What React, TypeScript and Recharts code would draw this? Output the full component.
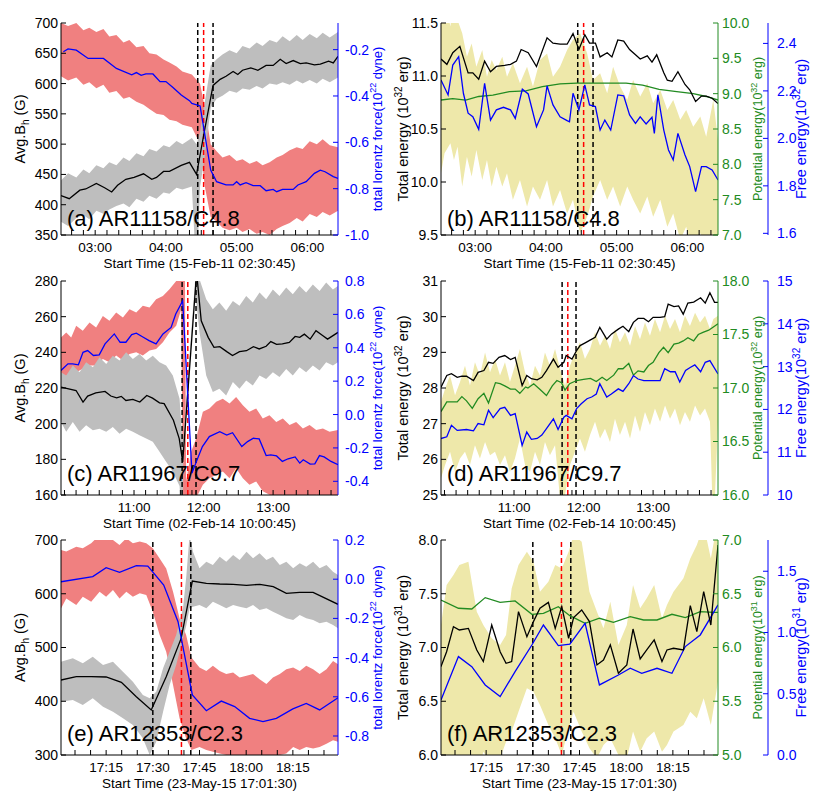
import React from 'react';
import { ComposedChart, Line, Area, XAxis, YAxis, ReferenceLine } from 'recharts';

const FONT = '"Liberation Sans", Arial, Helvetica, sans-serif';
const BLUE = '#0000ff';
const GREEN = '#228b22';
const RED_FILL = '#f08080';
const GRAY_FILL = '#bebebe';
const KHAKI_FILL = '#eee8aa';

// times are minutes of the day

// time axis ticks (all tick marks, and the ones that carry a label)
const X_TICKS_A = [160, 170, 180, 190, 200, 210, 220, 230, 240, 250, 260, 270, 280, 290, 300, 310, 320, 330, 340, 350, 360, 370, 380];
const X_LABELS_A = [180, 240, 300, 360];
const X_TICKS_C = [600, 610, 620, 630, 640, 650, 660, 670, 680, 690, 700, 710, 720, 730, 740, 750, 760, 770, 780, 790, 800, 810, 820, 830];
const X_LABELS_C = [660, 720, 780];
const X_TICKS_E = [1025, 1030, 1035, 1040, 1045, 1050, 1055, 1060, 1065, 1070, 1075, 1080, 1085, 1090, 1095, 1100, 1105];
const X_LABELS_E = [1035, 1050, 1065, 1080, 1095];

// ---- (a) AR11158/C4.8 : Avg.Bh and total Lorentz force ----
const A_BH_T = [151, 158, 167, 172, 181, 188, 194, 199, 206, 213, 221, 228, 232, 238, 243, 253, 260, 266, 273, 280, 286, 291, 297, 301, 305, 312, 318, 325, 331, 337, 342, 348, 354, 359, 366, 371, 378, 382, 386];
const A_BH_V = [415, 410, 424, 426, 435, 428, 421, 432, 442, 445, 451, 442, 445, 455, 455, 465, 470, 450, 525, 597, 607, 612, 620, 615, 622, 626, 622, 630, 630, 640, 633, 638, 633, 634, 631, 632, 637, 634, 645];
const A_LF_T = [153, 157, 164, 174, 187, 198, 211, 215, 219, 223, 229, 235, 240, 246, 253, 260, 262, 269, 278, 283, 291, 297, 300, 303, 308, 314, 320, 325, 331, 334, 339, 348, 352, 359, 366, 371, 375, 382, 386];
const A_LF_V = [-0.209, -0.197, -0.202, -0.238, -0.238, -0.281, -0.309, -0.299, -0.311, -0.305, -0.305, -0.338, -0.338, -0.363, -0.396, -0.42, -0.432, -0.443, -0.72, -0.77, -0.784, -0.784, -0.77, -0.784, -0.774, -0.787, -0.787, -0.809, -0.803, -0.813, -0.803, -0.803, -0.784, -0.77, -0.734, -0.72, -0.727, -0.748, -0.756];
const A_RED_T = [151, 157, 164, 170, 175, 181, 187, 192, 198, 204, 209, 215, 221, 226, 232, 238, 243, 249, 254, 262, 269, 273, 278, 283, 288, 294, 300, 305, 311, 317, 322, 328, 334, 339, 345, 351, 356, 362, 368, 373, 379, 386];
const A_RED_HI = [-0.085, -0.098, -0.085, -0.116, -0.106, -0.124, -0.111, -0.143, -0.137, -0.169, -0.158, -0.19, -0.184, -0.216, -0.221, -0.242, -0.255, -0.273, -0.294, -0.307, -0.347, -0.451, -0.608, -0.639, -0.665, -0.655, -0.681, -0.673, -0.692, -0.681, -0.699, -0.686, -0.665, -0.655, -0.634, -0.621, -0.629, -0.595, -0.608, -0.587, -0.613, -0.621];
const A_RED_LO = [-0.315, -0.333, -0.32, -0.352, -0.341, -0.367, -0.352, -0.386, -0.378, -0.412, -0.404, -0.425, -0.438, -0.456, -0.477, -0.482, -0.503, -0.509, -0.524, -0.535, -0.608, -0.791, -0.922, -0.942, -0.969, -0.979, -0.969, -0.987, -0.974, -0.995, -0.987, -1.0, -0.974, -0.961, -0.948, -0.927, -0.942, -0.909, -0.922, -0.901, -0.916, -0.895];
const A_GRAY_T = [151, 157, 164, 170, 175, 181, 187, 192, 198, 204, 209, 215, 221, 226, 232, 238, 243, 249, 254, 262, 266, 269, 273, 278, 283, 288, 294, 300, 305, 311, 317, 322, 328, 334, 339, 345, 351, 356, 362, 368, 373, 379, 386];
const A_GRAY_HI = [440, 452, 445, 458, 452, 465, 460, 470, 465, 478, 472, 485, 480, 492, 488, 498, 495, 505, 500, 510, 500, 520, 570, 630, 640, 648, 655, 650, 662, 658, 668, 662, 672, 668, 678, 670, 680, 672, 682, 675, 684, 676, 685];
const A_GRAY_LO = [372, 365, 378, 383, 376, 390, 385, 392, 398, 402, 396, 410, 405, 415, 410, 420, 418, 428, 425, 430, 280, 430, 480, 560, 575, 580, 588, 585, 592, 590, 596, 592, 600, 598, 602, 598, 605, 600, 606, 600, 608, 602, 610];

// ---- (b) AR11158/C4.8 : energies ----
const B_TE_T = [151, 156, 161, 167, 174, 178, 183, 188, 193, 198, 205, 210, 215, 219, 225, 232, 241, 246, 252, 258, 263, 268, 273, 277, 282, 286, 292, 296, 301, 306, 311, 316, 320, 326, 330, 334, 340, 343, 347, 352, 358, 362, 367, 372, 376, 381, 386];
const B_TE_V = [11.16, 11.11, 11.22, 11.28, 11.03, 11.03, 10.97, 11.14, 11.04, 11.09, 11.1, 11.11, 11.14, 11.25, 11.22, 11.09, 11.36, 11.31, 11.3, 11.3, 11.4, 11.25, 11.39, 11.31, 11.31, 11.18, 11.22, 11.18, 11.34, 11.33, 11.25, 11.2, 11.16, 11.19, 11.13, 11.2, 11.03, 10.96, 10.95, 11.04, 10.92, 10.87, 10.76, 10.81, 10.81, 10.79, 10.74];
const B_PE_T = [151, 161, 172, 183, 195, 209, 223, 237, 252, 266, 280, 294, 308, 322, 336, 351, 365, 376, 386];
const B_PE_V = [8.91, 8.93, 8.91, 8.96, 8.98, 9.03, 9.04, 9.1, 9.14, 9.15, 9.15, 9.15, 9.15, 9.12, 9.06, 9.03, 9.0, 8.96, 8.91];
const B_FE_T = [151, 157, 161, 166, 170, 174, 178, 183, 188, 193, 198, 204, 210, 214, 220, 225, 232, 238, 241, 246, 252, 258, 260, 263, 268, 273, 277, 282, 286, 290, 295, 301, 306, 311, 316, 320, 325, 330, 332, 335, 340, 344, 348, 352, 358, 362, 367, 372, 376, 381, 386];
const B_FE_V = [2.246, 2.183, 2.309, 2.344, 2.19, 2.106, 2.091, 2.038, 2.232, 2.077, 2.12, 2.131, 2.12, 2.084, 2.207, 2.187, 2.049, 2.12, 2.221, 2.141, 2.091, 2.075, 2.07, 2.19, 2.12, 2.225, 2.141, 2.134, 2.035, 2.077, 2.035, 2.183, 2.179, 2.099, 2.063, 2.091, 2.061, 2.089, 2.021, 2.183, 2.035, 1.951, 1.909, 2.021, 1.93, 1.881, 1.776, 1.881, 1.881, 1.867, 1.825];
const B_ERR_T = [151, 154, 159, 162, 165, 169, 173, 177, 181, 186, 190, 194, 198, 203, 207, 212, 218, 224, 229, 235, 241, 246, 252, 258, 263, 269, 275, 280, 286, 292, 297, 303, 309, 314, 320, 326, 331, 337, 343, 348, 354, 359, 365, 371, 376, 382, 386];
const B_ERR_HI = [2.541, 2.583, 2.471, 2.611, 2.499, 2.443, 2.344, 2.4, 2.302, 2.372, 2.26, 2.33, 2.288, 2.344, 2.26, 2.316, 2.232, 2.302, 2.218, 2.33, 2.358, 2.26, 2.302, 2.372, 2.415, 2.443, 2.358, 2.246, 2.274, 2.19, 2.302, 2.218, 2.162, 2.246, 2.176, 2.232, 2.148, 2.204, 2.12, 2.162, 2.078, 2.12, 2.049, 2.092, 2.007, 2.162, 1.993];
const B_ERR_LO = [1.853, 1.937, 1.979, 1.909, 1.965, 1.797, 1.923, 1.839, 1.951, 1.825, 1.909, 1.797, 1.881, 1.797, 1.853, 1.741, 1.825, 1.713, 1.797, 1.741, 1.825, 1.713, 1.783, 1.684, 1.741, 1.6, 1.67, 1.755, 1.825, 1.741, 1.797, 1.713, 1.797, 1.741, 1.684, 1.755, 1.67, 1.741, 1.628, 1.684, 1.572, 1.628, 1.516, 1.6, 1.544, 1.6, 1.516];

// ---- (c) AR11967/C9.7 : Avg.Bh and total Lorentz force ----
const C_BH_T = [597, 610, 616, 620, 627, 635, 640, 645, 649, 653, 659, 665, 671, 676, 682, 686, 694, 699, 702, 714, 718, 724, 729, 734, 740, 745, 751, 757, 763, 768, 774, 778, 783, 788, 794, 799, 803, 807, 812, 817, 823, 827, 836];
const C_BH_V = [220.5, 218.6, 212.1, 215.5, 217.3, 218.1, 215.5, 214.5, 215.3, 213.0, 213.6, 212.1, 215.8, 214.3, 211.7, 211.2, 201.9, 191.6, 178.6, 284.6, 257.7, 248.4, 242.8, 243.2, 240.4, 238.2, 240.4, 240.9, 243.2, 241.9, 243.4, 246.0, 244.5, 244.7, 245.6, 248.9, 248.4, 250.2, 247.4, 252.1, 249.3, 247.4, 251.2];
const C_LF_T = [597, 603, 607, 612, 616, 620, 625, 630, 635, 643, 648, 653, 658, 662, 668, 673, 679, 685, 692, 696, 702, 710, 715, 719, 725, 734, 740, 745, 753, 758, 763, 768, 774, 778, 783, 788, 793, 799, 803, 806, 812, 816, 820, 824, 830, 836];
const C_LF_V = [0.264, 0.304, 0.304, 0.298, 0.373, 0.383, 0.354, 0.358, 0.423, 0.483, 0.433, 0.433, 0.479, 0.487, 0.463, 0.443, 0.423, 0.483, 0.522, 0.602, 0.681, -0.351, -0.261, -0.192, -0.132, -0.103, -0.123, -0.109, -0.192, -0.162, -0.142, -0.146, -0.246, -0.242, -0.248, -0.281, -0.265, -0.254, -0.291, -0.271, -0.297, -0.295, -0.246, -0.254, -0.281, -0.301];
const C_RED_T = [597, 601.5, 605.8, 610.1, 615.8, 621.6, 627.3, 633.1, 638.8, 644.6, 650.4, 656.1, 661.9, 667.6, 673.4, 679.1, 684.9, 690.6, 696.4, 700.7, 702.3, 703.8, 705, 709.3, 713.6, 719.4, 725.1, 730.9, 736.6, 742.4, 748.1, 753.9, 759.6, 765.4, 771.1, 776.9, 782.7, 788.4, 794.2, 799.9, 805.7, 811.5, 817.2, 823, 828.7, 835.9];
const C_RED_HI = [0.462, 0.492, 0.462, 0.532, 0.502, 0.552, 0.522, 0.591, 0.562, 0.611, 0.581, 0.631, 0.611, 0.651, 0.641, 0.691, 0.71, 0.75, 0.8, 0.889, 0.95, 0.95, -0.4, -0.222, -0.143, 0.016, 0.036, 0.076, 0.095, 0.066, 0.105, 0.056, 0.016, 0.036, -0.024, -0.004, -0.044, -0.024, -0.063, -0.044, -0.083, -0.063, -0.093, -0.083, -0.103, -0.093];
const C_RED_LO = [0.195, 0.234, 0.205, 0.254, 0.274, 0.294, 0.294, 0.333, 0.314, 0.353, 0.324, 0.363, 0.373, 0.353, 0.383, 0.393, 0.433, 0.492, 0.532, 0.631, -0.55, -0.55, -0.55, -0.54, -0.5, -0.42, -0.381, -0.361, -0.341, -0.381, -0.321, -0.381, -0.42, -0.401, -0.46, -0.48, -0.5, -0.48, -0.52, -0.5, -0.5, -0.52, -0.48, -0.5, -0.51, -0.5];
const C_GRAY_T = [597, 601.5, 607.2, 613, 618.7, 624.5, 630.2, 636, 641.7, 647.5, 653.2, 659, 664.7, 670.5, 676.2, 682, 687.7, 693.5, 699.3, 700.8, 701.8, 702.6, 713, 713.8, 716.5, 722.3, 728, 733.7, 739.5, 745.3, 751, 756.8, 762.5, 768.3, 774, 779.8, 785.5, 791.3, 797, 802.8, 808.5, 814.3, 820.1, 825.8, 831.6, 835.9];
const C_GRAY_HI = [228.9, 227.0, 232.6, 228.9, 234.4, 231.6, 237.2, 233.5, 238.1, 235.4, 240.0, 236.3, 239.1, 235.4, 238.1, 234.4, 232.6, 227.0, 214, 200, 190, 192, 283, 300, 281.0, 269.8, 264.2, 267.9, 263.3, 268.8, 266.1, 271.6, 267.9, 273.5, 269.8, 275.3, 271.6, 276.3, 272.6, 277.2, 273.5, 278.1, 274.4, 279.1, 275.3, 277.2];
const C_GRAY_LO = [201.0, 195.4, 201.0, 195.4, 199.1, 196.3, 197.2, 195.4, 198.2, 194.4, 197.2, 195.4, 193.5, 191.7, 189.8, 184.2, 178.6, 173.1, 165, 150, 130, 184, 277, 268, 251.2, 227.0, 217.7, 219.6, 215.8, 223.3, 219.6, 224.2, 221.4, 227.0, 225.1, 228.9, 226.1, 230.7, 227.0, 231.6, 228.9, 232.6, 229.8, 234.4, 232.6, 234.4];

// ---- (d) AR11967/C9.7 : energies ----
const D_TE_T = [597, 602, 606, 611, 615, 619, 625, 629, 634, 638, 642, 647, 652, 657, 661, 667, 671, 675, 680, 684, 688, 694, 698, 703, 705, 710, 714, 717, 721, 726, 730, 734, 740, 744, 750, 754, 759, 763, 767, 772, 776, 780, 786, 790, 793, 798, 802, 806, 810, 815, 821, 825, 829, 833, 836];
const D_TE_V = [28.02, 28.35, 28.4, 28.3, 28.33, 28.33, 28.21, 28.44, 28.49, 28.72, 28.69, 28.86, 28.91, 28.8, 28.86, 28.07, 28.35, 28.26, 28.23, 28.3, 28.49, 28.81, 28.58, 28.72, 28.91, 28.81, 29.05, 29.19, 29.26, 29.35, 29.42, 29.7, 29.37, 29.51, 29.65, 29.73, 29.58, 29.84, 29.95, 29.95, 29.86, 29.98, 29.98, 30.0, 30.35, 30.28, 30.3, 30.07, 30.38, 30.41, 30.53, 30.38, 30.67, 30.4, 30.4];
const D_PE_T = [597, 602, 606, 611, 615, 619, 624, 629, 634, 638, 644, 648, 652, 657, 661, 665, 670, 672, 677, 682, 688, 693, 697, 701, 704, 708, 714, 720, 726, 731, 736, 740, 746, 750, 754, 759, 763, 767, 772, 776, 780, 785, 789, 793, 798, 802, 806, 810, 815, 819, 823, 828, 832, 836];
const D_PE_V = [16.78, 16.87, 16.87, 16.87, 16.92, 16.88, 16.81, 16.9, 16.95, 16.86, 17.05, 17.04, 17.02, 16.99, 16.99, 16.95, 17.01, 17.0, 17.04, 16.99, 16.93, 17.02, 17.07, 17.05, 16.98, 17.04, 17.07, 17.08, 17.09, 17.06, 17.1, 17.07, 17.12, 17.18, 17.18, 17.23, 17.12, 17.16, 17.15, 17.21, 17.24, 17.33, 17.38, 17.33, 17.41, 17.42, 17.44, 17.47, 17.44, 17.5, 17.52, 17.54, 17.57, 17.6];
const D_FE_T = [597, 602, 606, 611, 619, 625, 629, 634, 638, 642, 648, 652, 657, 661, 667, 671, 675, 680, 684, 688, 694, 698, 703, 705, 710, 714, 718, 723, 727, 731, 734, 740, 744, 750, 754, 759, 763, 767, 772, 776, 780, 786, 790, 795, 799, 803, 808, 812, 816, 821, 825, 829, 836];
const D_FE_V = [11.32, 11.36, 11.63, 11.51, 11.53, 11.5, 11.67, 11.64, 11.98, 11.81, 12.02, 12.05, 11.86, 11.9, 11.16, 11.47, 11.3, 11.32, 11.4, 11.55, 11.78, 11.53, 11.82, 11.86, 11.78, 12.02, 12.13, 12.25, 12.29, 12.36, 12.6, 12.29, 12.36, 12.48, 12.42, 12.6, 12.79, 12.71, 12.67, 12.67, 12.67, 12.67, 12.95, 12.88, 12.88, 12.64, 12.91, 12.98, 13.04, 12.88, 13.1, 13.14, 12.83];
const D_ERR_T = [597, 600.5, 604.8, 609.1, 613.4, 617.7, 622, 626.3, 630.6, 635, 639.3, 643.6, 647.9, 652.2, 656.5, 660.8, 665.1, 669.5, 673.8, 678.1, 682.4, 686.7, 691, 695.4, 699.7, 704, 708.3, 712.6, 716.9, 721.2, 725.6, 729.9, 734.2, 738.5, 742.8, 747.1, 751.4, 755.8, 760.1, 764.4, 768.7, 773, 777.3, 781.6, 786, 790.3, 794.6, 798.9, 803.2, 807.5, 811.8, 816.2, 820.5, 824.8, 829.1, 832, 836];
const D_ERR_HI = [12.17, 12.48, 12.79, 12.33, 12.64, 13.02, 12.56, 13.1, 12.79, 13.33, 12.87, 13.18, 12.79, 13.1, 12.64, 13.02, 13.41, 12.87, 12.56, 13.02, 12.79, 13.33, 13.02, 13.41, 12.95, 12.56, 13.02, 13.33, 13.57, 13.18, 13.41, 13.8, 13.49, 13.72, 13.41, 13.88, 13.57, 13.8, 13.49, 13.95, 13.64, 14.03, 13.72, 14.11, 13.8, 14.19, 13.88, 14.11, 13.8, 14.19, 13.95, 14.26, 14.03, 14.19, 13.88, 14.11, 14.19];
const D_ERR_LO = [10.39, 10.7, 11.01, 10.54, 10.85, 11.01, 10.7, 11.16, 10.85, 11.24, 10.93, 11.01, 10.7, 10.93, 10.54, 10.85, 11.32, 10.7, 10.54, 11.01, 10.7, 11.24, 10.93, 11.16, 9.92, 10.0, 10.7, 11.01, 11.32, 11.01, 11.4, 11.71, 11.32, 11.55, 11.24, 11.78, 11.4, 11.71, 11.32, 11.86, 11.47, 11.94, 11.63, 12.02, 11.71, 12.09, 11.78, 12.02, 11.63, 11.94, 11.71, 12.09, 11.86, 12.02, 11.71, 9.07, 11.71];

// ---- (e) AR12353/C2.3 : Avg.Bh and total Lorentz force ----
const E_BH_T = [1020.5, 1025.4, 1030.2, 1035, 1039.9, 1044.7, 1049.5, 1054.3, 1059.1, 1062.7, 1067.2, 1071.5, 1075.8, 1080.1, 1084.4, 1088.7, 1092.9, 1097.2, 1101.5, 1109.5];
const E_BH_V = [439.5, 445.7, 445.7, 445.1, 435.2, 408.5, 383.7, 445.7, 517, 623.7, 619.4, 618.1, 617.5, 615.7, 617.5, 613.2, 600.8, 602.6, 602.6, 580.3];
const E_LF_T = [1020.5, 1030.7, 1035, 1039.3, 1044.7, 1048.4, 1053.5, 1058.1, 1062.7, 1067.2, 1072, 1076.3, 1081.1, 1085.4, 1089.7, 1095, 1099.3, 1103.6, 1109.5];
const E_LF_V = [-0.013, 0.013, 0.059, 0.035, 0.069, 0.067, -0.03, -0.217, -0.59, -0.671, -0.622, -0.65, -0.71, -0.727, -0.71, -0.662, -0.634, -0.667, -0.605];
const E_RED_T = [1020.5, 1022.2, 1025.4, 1027.5, 1030.2, 1032.9, 1035, 1037.2, 1039.3, 1041.5, 1043.6, 1045.8, 1047.9, 1050, 1052.2, 1054.3, 1056.5, 1058.6, 1060.7, 1062.4, 1065, 1067.2, 1069.3, 1071.5, 1073.6, 1075.8, 1077.9, 1080.1, 1082.2, 1084.3, 1086.5, 1088.6, 1090.8, 1092.9, 1095.1, 1097.2, 1099.3, 1101.5, 1103.6, 1105.8, 1107.9, 1109.5];
const E_RED_HI = [0.149, 0.141, 0.166, 0.158, 0.183, 0.226, 0.209, 0.2, 0.175, 0.209, 0.183, 0.192, 0.183, 0.158, 0.106, 0.055, -0.064, -0.2, -0.285, -0.4, -0.451, -0.468, -0.442, -0.468, -0.484, -0.476, -0.501, -0.493, -0.484, -0.51, -0.535, -0.501, -0.484, -0.459, -0.451, -0.468, -0.442, -0.459, -0.484, -0.459, -0.417, -0.434];
const E_RED_LO = [-0.149, -0.098, -0.132, -0.089, -0.115, -0.064, -0.089, -0.055, -0.098, -0.064, -0.089, -0.072, -0.081, -0.166, -0.285, -0.37, -0.54, -0.71, -0.812, -0.872, -0.856, -0.872, -0.88, -0.889, -0.897, -0.906, -0.897, -0.914, -0.923, -0.914, -0.923, -0.906, -0.897, -0.889, -0.856, -0.872, -0.856, -0.864, -0.856, -0.839, -0.822, -0.83];
const E_GRAY_T = [1020.5, 1024.3, 1027.5, 1030.7, 1034, 1037.2, 1040.4, 1043.6, 1046.8, 1049, 1051.1, 1053.3, 1055.4, 1057.5, 1059.7, 1060.8, 1061.8, 1062.9, 1065, 1067.2, 1069.3, 1071.5, 1073.6, 1075.8, 1077.9, 1080.1, 1082.2, 1084.3, 1086.5, 1088.6, 1090.8, 1092.9, 1095.1, 1097.2, 1099.3, 1101.5, 1103.6, 1105.8, 1107.9, 1109.5];
const E_GRAY_HI = [473.6, 479.8, 470.5, 482.9, 467.4, 473.6, 455.0, 436.4, 411.6, 405.4, 417.8, 461.2, 492.2, 523.2, 572.9, 634.9, 709.3, 678.3, 647.3, 659.7, 653.5, 669.0, 659.7, 672.1, 662.8, 678.3, 665.9, 675.2, 662.8, 669.0, 653.5, 659.7, 647.3, 656.6, 650.4, 659.7, 647.3, 653.5, 641.1, 634.9];
const E_GRAY_LO = [399.2, 402.3, 393.0, 405.4, 389.9, 380.6, 368.2, 355.8, 331.0, 300.0, 324.8, 380.6, 430.2, 467.4, 517.0, 541.8, 572.9, 576.0, 579.1, 572.9, 585.3, 579.1, 572.9, 579.1, 576.0, 572.9, 579.1, 569.8, 572.9, 566.6, 560.4, 554.2, 551.1, 560.4, 554.2, 551.1, 544.9, 548.0, 541.8, 535.6];

// ---- (f) AR12353/C2.3 : energies ----
const F_TE_T = [1020.5, 1022.3, 1024.5, 1026.4, 1029.3, 1032, 1034.1, 1036.8, 1039.5, 1041.4, 1043.2, 1045.4, 1048.1, 1050.2, 1052.3, 1055, 1057.2, 1059.3, 1061.5, 1063.1, 1065.7, 1068.2, 1070.6, 1072.7, 1074.9, 1077.5, 1080.2, 1082.2, 1084.5, 1086.6, 1089, 1091.5, 1093.1, 1095.2, 1098.4, 1100.6, 1102.7, 1104.9, 1107.2, 1109.5];
const F_TE_V = [6.822, 6.961, 7.194, 7.163, 7.178, 6.977, 6.869, 7.209, 6.961, 6.853, 6.869, 7.334, 7.101, 7.241, 7.365, 7.42, 7.178, 7.38, 7.086, 7.278, 7.349, 7.241, 6.838, 6.884, 7.024, 6.76, 6.838, 7.172, 6.893, 6.977, 7.07, 6.869, 6.977, 6.993, 6.977, 7.389, 7.148, 7.52, 7.209, 7.954];
const F_PE_T = [1020.5, 1026.1, 1030.4, 1034.7, 1039.5, 1044.3, 1049.7, 1053.4, 1058.2, 1061.9, 1066.8, 1071.4, 1075.9, 1081.3, 1085.6, 1089.9, 1094.7, 1099, 1103.8, 1108.1, 1109.5];
const F_PE_V = [6.442, 6.365, 6.358, 6.464, 6.42, 6.433, 6.309, 6.318, 6.38, 6.296, 6.225, 6.272, 6.234, 6.287, 6.256, 6.256, 6.309, 6.278, 6.334, 6.327, 6.327];
const F_FE_T = [1020.5, 1026.1, 1030.4, 1034.7, 1039.5, 1044.3, 1049.7, 1053.4, 1058.2, 1061.9, 1066.8, 1071.4, 1077.5, 1081.3, 1085, 1089.9, 1094.7, 1099, 1103.8, 1109.5];
const F_FE_V = [0.449, 0.803, 0.721, 0.572, 0.477, 0.681, 0.898, 1.061, 0.893, 0.904, 1.075, 0.572, 0.653, 0.708, 0.667, 0.708, 0.667, 0.885, 0.98, 1.225];
const F_ERR_T = [1020.5, 1022.3, 1024.5, 1026.4, 1029.3, 1032, 1034.1, 1036.8, 1039.5, 1041.4, 1043.2, 1045.4, 1048.1, 1050.2, 1052.3, 1055, 1057.2, 1059.3, 1061.5, 1063.1, 1065.7, 1068.2, 1070.6, 1072.7, 1074.9, 1077.5, 1080.2, 1082.2, 1084.5, 1086.6, 1089, 1091.5, 1093.1, 1095.2, 1098.4, 1100.6, 1102.7, 1104.9, 1107.2, 1109.5];
const F_ERR_HI = [1.061, 1.387, 1.469, 1.551, 1.578, 1.17, 1.061, 0.952, 0.898, 0.979, 1.36, 1.551, 1.659, 1.578, 1.333, 1.415, 1.551, 1.523, 1.659, 1.795, 1.741, 1.333, 1.17, 1.034, 1.251, 0.898, 1.061, 1.387, 1.197, 1.279, 1.387, 1.115, 1.224, 1.333, 1.442, 1.605, 1.714, 1.877, 1.605, 1.931];
const F_ERR_LO = [-0.299, -0.081, -0.19, -0.027, 0.0, -0.19, 0.027, -0.081, -0.027, 0.109, 0.191, 0.354, 0.544, 0.517, 0.408, 0.245, 0.136, 0.0, 0.218, 0.354, 0.191, 0.055, -0.027, 0.082, 0.136, 0.0, -0.027, 0.191, 0.027, 0.136, 0.191, 0.027, 0.082, 0.191, 0.245, 0.354, 0.299, 0.463, 0.245, 0.599];

// flare markers (black = start/end, red = peak)
const FLARE_A = { edges: [267, 280], peak: 272 };
const FLARE_C = { edges: [701.5, 713.5], peak: 706.4 };
const FLARE_E = { edges: [1050, 1062.2], peak: 1059.2 };

type Part = [string, ('sup' | 'sub')?];
const T_BH: Part[] = [['Avg.B'], ['h', 'sub'], [' (G)']];
const T_LF: Part[] = [['total lorentz force(10'], ['22', 'sup'], [' dyne)']];
const energyTitle = (name: string, exp: string): Part[] => [[name + '(10'], [exp, 'sup'], [' erg)']];

const pts = (t: number[], v: number[]) => t.map((x, i) => ({ t: x, v: v[i] }));
const rng = (t: number[], lo: number[], hi: number[]) => t.map((x, i) => ({ t: x, r: [lo[i], hi[i]] }));

const hhmm = (m: number) => {
  const h = Math.floor(m / 60);
  const mm = Math.round(m - h * 60);
  return `${String(h).padStart(2, '0')}:${String(mm).padStart(2, '0')}`;
};

function Title({ x, y, parts, color, size, vertical }: { x: number; y: number; parts: Part[]; color: string; size: number; vertical: boolean }) {
  let level = 0;
  const spans = parts.map(([s, mode], i) => {
    const target = mode === 'sup' ? -0.45 * size : mode === 'sub' ? 0.28 * size : 0;
    const dy = target - level;
    level = target;
    return (
      <tspan key={i} dy={dy} fontSize={mode ? Math.round(size * 0.7) : size}>
        {s}
      </tspan>
    );
  });
  const tr = vertical ? `translate(${x + size * 0.35},${y}) rotate(-90)` : `translate(${x},${y})`;
  return (
    <text transform={tr} textAnchor="middle" fill={color} fontFamily={FONT} fontSize={size}>
      {spans}
    </text>
  );
}

interface AxisDef {
  id: string;
  domain: [number, number];
  ticks: number[];
  digits: number;
  color: string;
  width: number;
  margin: number;
  title: Part[];
  titleX: number;
  titleSize: number;
}

interface PanelProps {
  left: number;
  plotTop: number;
  plotH: number;
  xDomain: [number, number];
  xTicks: number[];
  xLabels: number[];
  xTitle: string;
  yLeft: AxisDef;
  yRight: AxisDef[];
  bands: { data: any[]; fill: string; axis: string }[];
  lines: { data: any[]; stroke: string; axis: string }[];
  flare: { edges: number[]; peak: number };
  tag: string;
  tagTop: number;
}

const PLOT_W = 277;
const LEFT_W = 61;

function Panel(p: PanelProps) {
  const width = LEFT_W + PLOT_W + p.yRight.reduce((s, a) => s + a.width, 0);
  const height = 10 + p.plotH + 36;
  const midY = 10 + p.plotH / 2;
  const yl = p.yLeft;
  const fmtX = (m: number) => (p.xLabels.includes(m) ? hhmm(m) : '');
  return (
    <>
      <div style={{ position: 'absolute', left: p.left, top: p.plotTop - 10, width, height }}>
        <ComposedChart width={width} height={height} margin={{ top: 10, right: 0, bottom: 0, left: 0 }}>
          <XAxis
            dataKey="t"
            type="number"
            domain={p.xDomain}
            allowDataOverflow
            ticks={p.xTicks}
            interval={0}
            tickFormatter={fmtX}
            height={36}
            tickSize={-5}
            tickMargin={12}
            tick={{ fill: '#000', fontSize: 13.5 }}
            axisLine={{ stroke: '#000' }}
            tickLine={{ stroke: '#000' }}
            label={() => (
              <Title x={LEFT_W + PLOT_W / 2} y={10 + p.plotH + 32.5} parts={[[p.xTitle]]} color="#000" size={13.5} vertical={false} />
            )}
          />
          <XAxis
            xAxisId="top"
            orientation="top"
            dataKey="t"
            type="number"
            domain={p.xDomain}
            allowDataOverflow
            ticks={p.xTicks}
            interval={0}
            tickFormatter={() => ''}
            height={0}
            tickSize={-4}
            axisLine={{ stroke: '#000' }}
            tickLine={{ stroke: '#000' }}
          />
          <YAxis
            yAxisId={yl.id}
            orientation="left"
            width={yl.width}
            type="number"
            domain={yl.domain}
            allowDataOverflow
            ticks={yl.ticks}
            interval={0}
            tickFormatter={(v: number) => v.toFixed(yl.digits)}
            tickSize={-5}
            tickMargin={yl.margin}
            tick={{ fill: yl.color, fontSize: 14 }}
            axisLine={{ stroke: yl.color }}
            tickLine={{ stroke: yl.color }}
            label={() => <Title x={yl.titleX} y={midY} parts={yl.title} color={yl.color} size={yl.titleSize} vertical />}
          />
          {p.yRight.map((a) => (
            <YAxis
              key={a.id}
              yAxisId={a.id}
              orientation="right"
              width={a.width}
              type="number"
              domain={a.domain}
              allowDataOverflow
              ticks={a.ticks}
              interval={0}
              tickFormatter={(v: number) => v.toFixed(a.digits)}
              tickSize={-5}
              tickMargin={a.margin}
              tick={{ fill: a.color, fontSize: 14 }}
              axisLine={{ stroke: a.color }}
              tickLine={{ stroke: a.color }}
              label={() => <Title x={a.titleX} y={midY} parts={a.title} color={a.color} size={a.titleSize} vertical />}
            />
          ))}
          {p.bands.map((b, i) => (
            <Area
              key={'b' + i}
              data={b.data}
              dataKey="r"
              yAxisId={b.axis}
              type="linear"
              stroke="none"
              fill={b.fill}
              fillOpacity={1}
              dot={false}
              activeDot={false}
              isAnimationActive={false}
            />
          ))}
          {p.flare.edges.map((x) => (
            <ReferenceLine key={'e' + x} x={x} yAxisId={yl.id} stroke="#000" strokeWidth={1.5} strokeDasharray="5 3" />
          ))}
          <ReferenceLine x={p.flare.peak} yAxisId={yl.id} stroke="#ff0000" strokeWidth={1.5} strokeDasharray="5 3" />
          {p.lines.map((l, i) => (
            <Line
              key={'l' + i}
              data={l.data}
              dataKey="v"
              yAxisId={l.axis}
              type="linear"
              stroke={l.stroke}
              strokeWidth={1.3}
              dot={false}
              activeDot={false}
              isAnimationActive={false}
            />
          ))}
        </ComposedChart>
      </div>
      <div
        style={{
          position: 'absolute',
          left: p.left === 0 ? 67 : 447,
          top: p.tagTop,
          fontFamily: FONT,
          fontSize: 22,
          lineHeight: '22px',
          color: '#000',
          whiteSpace: 'nowrap',
        }}
      >
        {p.tag}
      </div>
    </>
  );
}

const leftAxis = (domain: [number, number], ticks: number[], digits: number, title: Part[], titleX: number): AxisDef => ({
  id: 'L', domain, ticks, digits, color: '#000', width: LEFT_W, margin: 8, title, titleX, titleSize: 14.5,
});
const forceAxis = (domain: [number, number], ticks: number[]): AxisDef => ({
  id: 'R', domain, ticks, digits: 1, color: BLUE, width: 62, margin: 12, title: T_LF, titleX: 377, titleSize: 13,
});
// potential energy axis sits next to the plot, free energy axis outside it
const potAxis = (domain: [number, number], ticks: number[], exp: string): AxisDef => ({
  id: 'G', domain, ticks, digits: 1, color: GREEN, width: 50, margin: 9, title: energyTitle('Potential energy', exp), titleX: 378, titleSize: 12.5,
});
const freeAxis = (domain: [number, number], ticks: number[], digits: number, exp: string): AxisDef => ({
  id: 'H', domain, ticks, digits, color: BLUE, width: 46, margin: 14, title: energyTitle('Free energy', exp), titleX: 421, titleSize: 14.5,
});

const ROWS = [
  { plotTop: 23, plotH: 212, tagTop: 208 },
  { plotTop: 281, plotH: 214, tagTop: 463 },
  { plotTop: 540, plotH: 215, tagTop: 723 },
];

export default function App() {
  const xa: [number, number] = [151, 386];
  const xc: [number, number] = [597, 836];
  const xe: [number, number] = [1020.5, 1109.5];
  return (
    <div style={{ position: 'absolute', left: 0, top: 0, width: 814, height: 792, background: '#fff', fontFamily: FONT, overflow: 'hidden' }}>
      <Panel
        left={0}
        {...ROWS[0]}
        xDomain={xa}
        xTicks={X_TICKS_A}
        xLabels={X_LABELS_A}
        xTitle="Start Time (15-Feb-11 02:30:45)"
        yLeft={leftAxis([350, 700], [350, 400, 450, 500, 550, 600, 650, 700], 0, T_BH, 20)}
        yRight={[forceAxis([-1.0, -0.085], [-1.0, -0.8, -0.6, -0.4, -0.2])]}
        bands={[
          { data: rng(A_RED_T, A_RED_LO, A_RED_HI), fill: RED_FILL, axis: 'R' },
          { data: rng(A_GRAY_T, A_GRAY_LO, A_GRAY_HI), fill: GRAY_FILL, axis: 'L' },
        ]}
        lines={[
          { data: pts(A_BH_T, A_BH_V), stroke: '#000', axis: 'L' },
          { data: pts(A_LF_T, A_LF_V), stroke: BLUE, axis: 'R' },
        ]}
        flare={FLARE_A}
        tag="(a) AR11158/C4.8"
      />
      <Panel
        left={380}
        {...ROWS[0]}
        xDomain={xa}
        xTicks={X_TICKS_A}
        xLabels={X_LABELS_A}
        xTitle="Start Time (15-Feb-11 02:30:45)"
        yLeft={leftAxis([9.5, 11.5], [9.5, 10.0, 10.5, 11.0, 11.5], 1, energyTitle('Total energy ', '32'), 23)}
        yRight={[
          freeAxis([1.593, 2.486], [1.6, 1.8, 2.0, 2.2, 2.4], 1, '32'),
          potAxis([7.0, 10.0], [7.0, 7.5, 8.0, 8.5, 9.0, 9.5, 10.0], '32'),
        ]}
        bands={[{ data: rng(B_ERR_T, B_ERR_LO, B_ERR_HI), fill: KHAKI_FILL, axis: 'H' }]}
        lines={[
          { data: pts(B_PE_T, B_PE_V), stroke: GREEN, axis: 'G' },
          { data: pts(B_FE_T, B_FE_V), stroke: BLUE, axis: 'H' },
          { data: pts(B_TE_T, B_TE_V), stroke: '#000', axis: 'L' },
        ]}
        flare={FLARE_A}
        tag="(b) AR11158/C4.8"
      />
      <Panel
        left={0}
        {...ROWS[1]}
        xDomain={xc}
        xTicks={X_TICKS_C}
        xLabels={X_LABELS_C}
        xTitle="Start Time (02-Feb-14 10:00:45)"
        yLeft={leftAxis([160, 280], [160, 180, 200, 220, 240, 260, 280], 0, T_BH, 20)}
        yRight={[forceAxis([-0.482, 0.8], [-0.4, -0.2, 0.0, 0.2, 0.4, 0.6, 0.8])]}
        bands={[
          { data: rng(C_RED_T, C_RED_LO, C_RED_HI), fill: RED_FILL, axis: 'R' },
          { data: rng(C_GRAY_T, C_GRAY_LO, C_GRAY_HI), fill: GRAY_FILL, axis: 'L' },
        ]}
        lines={[
          { data: pts(C_BH_T, C_BH_V), stroke: '#000', axis: 'L' },
          { data: pts(C_LF_T, C_LF_V), stroke: BLUE, axis: 'R' },
        ]}
        flare={FLARE_C}
        tag="(c) AR11967/C9.7"
      />
      <Panel
        left={380}
        {...ROWS[1]}
        xDomain={xc}
        xTicks={X_TICKS_C}
        xLabels={X_LABELS_C}
        xTitle="Start Time (02-Feb-14 10:00:45)"
        yLeft={leftAxis([25, 31], [25, 26, 27, 28, 29, 30, 31], 0, energyTitle('Total energy ', '32'), 23)}
        yRight={[
          freeAxis([10, 15], [10, 11, 12, 13, 14, 15], 0, '32'),
          potAxis([16.0, 18.0], [16.0, 16.5, 17.0, 17.5, 18.0], '32'),
        ]}
        bands={[{ data: rng(D_ERR_T, D_ERR_LO, D_ERR_HI), fill: KHAKI_FILL, axis: 'H' }]}
        lines={[
          { data: pts(D_PE_T, D_PE_V), stroke: GREEN, axis: 'G' },
          { data: pts(D_FE_T, D_FE_V), stroke: BLUE, axis: 'H' },
          { data: pts(D_TE_T, D_TE_V), stroke: '#000', axis: 'L' },
        ]}
        flare={FLARE_C}
        tag="(d) AR11967/C9.7"
      />
      <Panel
        left={0}
        {...ROWS[2]}
        xDomain={xe}
        xTicks={X_TICKS_E}
        xLabels={X_LABELS_E}
        xTitle="Start Time (23-May-15 17:01:30)"
        yLeft={leftAxis([300, 700], [300, 400, 500, 600, 700], 0, T_BH, 20)}
        yRight={[forceAxis([-0.897, 0.2], [-0.8, -0.6, -0.4, -0.2, 0.0, 0.2])]}
        bands={[
          { data: rng(E_RED_T, E_RED_LO, E_RED_HI), fill: RED_FILL, axis: 'R' },
          { data: rng(E_GRAY_T, E_GRAY_LO, E_GRAY_HI), fill: GRAY_FILL, axis: 'L' },
        ]}
        lines={[
          { data: pts(E_BH_T, E_BH_V), stroke: '#000', axis: 'L' },
          { data: pts(E_LF_T, E_LF_V), stroke: BLUE, axis: 'R' },
        ]}
        flare={FLARE_E}
        tag="(e) AR12353/C2.3"
      />
      <Panel
        left={380}
        {...ROWS[2]}
        xDomain={xe}
        xTicks={X_TICKS_E}
        xLabels={X_LABELS_E}
        xTitle="Start Time (23-May-15 17:01:30)"
        yLeft={leftAxis([6.0, 8.0], [6.0, 6.5, 7.0, 7.5, 8.0], 1, energyTitle('Total energy ', '31'), 23)}
        yRight={[
          freeAxis([0, 1.755], [0.0, 0.5, 1.0, 1.5], 1, '31'),
          potAxis([5.0, 7.0], [5.0, 5.5, 6.0, 6.5, 7.0], '31'),
        ]}
        bands={[{ data: rng(F_ERR_T, F_ERR_LO, F_ERR_HI), fill: KHAKI_FILL, axis: 'H' }]}
        lines={[
          { data: pts(F_PE_T, F_PE_V), stroke: GREEN, axis: 'G' },
          { data: pts(F_FE_T, F_FE_V), stroke: BLUE, axis: 'H' },
          { data: pts(F_TE_T, F_TE_V), stroke: '#000', axis: 'L' },
        ]}
        flare={FLARE_E}
        tag="(f) AR12353/C2.3"
      />
    </div>
  );
}
